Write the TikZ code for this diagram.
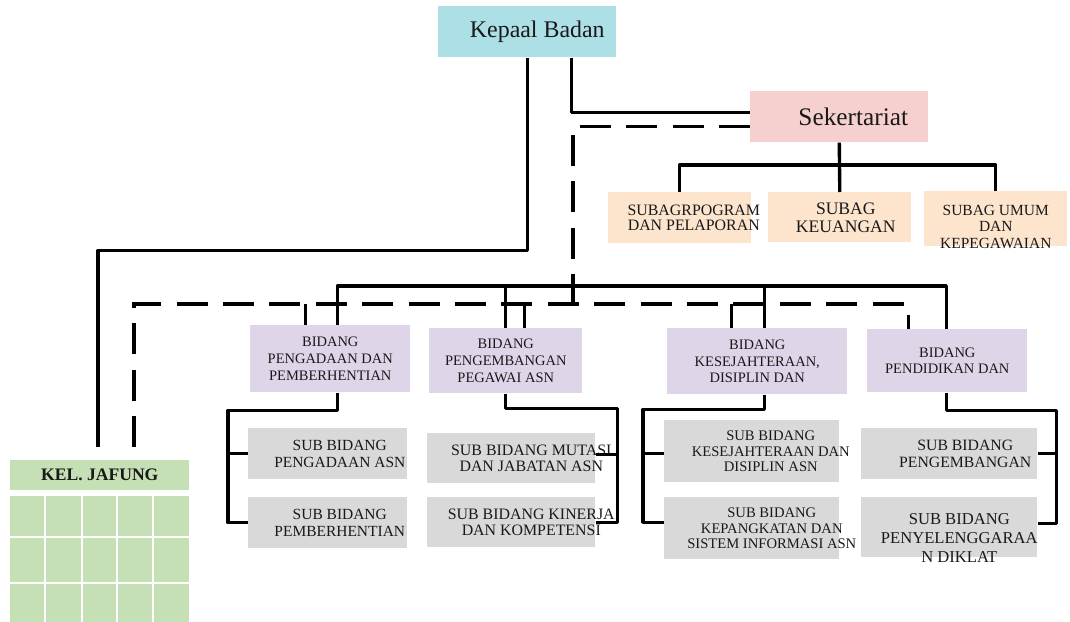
\documentclass[tikz,border=0pt]{standalone}
\usepackage{fontspec}
\setmainfont{Liberation Serif}
\usetikzlibrary{calc}

\definecolor{kbcyan}{RGB}{173,224,230}
\definecolor{sekpink}{RGB}{246,207,207}
\definecolor{subagpeach}{RGB}{252,228,205}
\definecolor{bidlav}{RGB}{223,213,232}
\definecolor{subgray}{RGB}{217,217,217}
\definecolor{jfgreen}{RGB}{197,224,180}

\tikzset{
  sized/.style 2 args={minimum width=#1*0.025cm, minimum height=#2*0.025cm,
    anchor=north west, inner sep=0pt},
  txt/.style={align=center, inner sep=0pt, text=black!90},
  conn/.style={line width=2.4pt, line join=round},
  dline/.style={line width=2.4pt, dash pattern=on 22pt off 11pt},
}

\begin{document}
\begin{tikzpicture}[x=0.025cm, y=-0.025cm]
\useasboundingbox (0,0) rectangle (1070,622);

% top level
\node[sized={178}{51}, fill=kbcyan, label={[txt, font=\fontsize{17}{20}\selectfont, xshift=0.25cm]center:Kepaal Badan}] (kb) at (438,6) {};
\node[sized={178}{51}, fill=sekpink, label={[txt, font=\fontsize{18}{20}\selectfont, xshift=0.35cm]center:Sekertariat}] (sek) at (750,91) {};

% subbagian
\node[sized={143}{51}, fill=subagpeach, label={[txt, font=\fontsize{11.3}{10.7}\selectfont, xshift=0.35cm]center:{SUBAGRPOGRAM\\DAN PELAPORAN}}] (sg1) at (608,192) {};
\node[sized={143}{50}, fill=subagpeach, label={[txt, font=\fontsize{12.5}{12.8}\selectfont, xshift=0.15cm]center:{SUBAG\\KEUANGAN}}] (sg2) at (768,192) {};
\node[sized={143}{55}, fill=subagpeach, label={[txt, font=\fontsize{11}{11.7}\selectfont, yshift=-0.2cm]center:{SUBAG UMUM\\DAN\\KEPEGAWAIAN}}] (sg3) at (924,191) {};

% bidang
\node[sized={160}{67}, fill=bidlav, label={[txt, font=\fontsize{10.3}{12}\selectfont]center:{BIDANG\\PENGADAAN DAN\\PEMBERHENTIAN}}] (b1) at (250,325) {};
\node[sized={153}{65}, fill=bidlav, label={[txt, font=\fontsize{10.3}{12}\selectfont]center:{BIDANG\\PENGEMBANGAN\\PEGAWAI ASN}}] (b2) at (429,328) {};
\node[sized={180}{66}, fill=bidlav, label={[txt, font=\fontsize{10.3}{12}\selectfont]center:{BIDANG\\KESEJAHTERAAN,\\DISIPLIN DAN}}] (b3) at (667,328) {};
\node[sized={160}{63}, fill=bidlav, label={[txt, font=\fontsize{10.3}{12}\selectfont]center:{BIDANG\\PENDIDIKAN DAN}}] (b4) at (867,329) {};

% sub bidang
\node[sized={159}{51}, fill=subgray, label={[txt, font=\fontsize{11}{12.5}\selectfont, xshift=0.3cm]center:{SUB BIDANG\\PENGADAAN ASN}}] (s11) at (248,428) {};
\node[sized={159}{51}, fill=subgray, label={[txt, font=\fontsize{11}{12.5}\selectfont, xshift=0.3cm]center:{SUB BIDANG\\PEMBERHENTIAN}}] (s12) at (248,497) {};
\node[sized={168}{50}, fill=subgray, label={[txt, font=\fontsize{11.3}{12}\selectfont, xshift=0.5cm]center:{SUB BIDANG MUTASI\\DAN JABATAN ASN}}] (s21) at (427,433) {};
\node[sized={168}{50}, fill=subgray, label={[txt, font=\fontsize{11.3}{12}\selectfont, xshift=0.5cm]center:{SUB BIDANG KINERJA\\DAN KOMPETENSI}}] (s22) at (427,497) {};
\node[sized={175}{62}, fill=subgray, label={[txt, font=\fontsize{10.4}{11}\selectfont, xshift=0.475cm]center:{SUB BIDANG\\KESEJAHTERAAN DAN\\DISIPLIN ASN}}] (s31) at (664,420) {};
\node[sized={175}{62}, fill=subgray, label={[txt, font=\fontsize{10.4}{11}\selectfont, xshift=0.5cm]center:{SUB BIDANG\\KEPANGKATAN DAN\\SISTEM INFORMASI ASN}}] (s32) at (664,497) {};
\node[sized={176}{51}, fill=subgray, label={[txt, font=\fontsize{11.2}{12.5}\selectfont, xshift=0.4cm]center:{SUB BIDANG\\PENGEMBANGAN}}] (s41) at (861,428) {};
\node[sized={176}{60}, fill=subgray, label={[txt, font=\fontsize{11.8}{13.5}\selectfont, xshift=0.25cm, yshift=-0.275cm]center:{SUB BIDANG\\PENYELENGGARAA\\N DIKLAT}}] (s42) at (861,497) {};

% kelompok jabatan fungsional
\node[sized={179}{30}, fill=jfgreen, label={[txt, font=\bfseries\fontsize{12.5}{14}\selectfont]center:KEL. JAFUNG}] (jafung) at (10,460) {};
\fill[jfgreen] (10,496) rectangle (189,622);
\foreach \x in {45,82,117,153}
  \draw[white, line width=1.5pt] (\x,496) -- (\x,622);
\foreach \y in {537,583}
  \draw[white, line width=1.5pt] (10,\y) -- (189,\y);

% lines
\coordinate (jf1) at (98,447);
\coordinate (jf2) at (134,447);
\coordinate (bus) at (640,286);
\coordinate (dbus) at (573,304);
\coordinate (sgbus) at (836,165);

\draw[conn] (kb.south) -- ++(0,193) -| (jf1);
\draw[conn] ($(kb.south)+(44,0)$) |- ($(sek.west)+(0,-4.5)$);
\draw[dline] ($(sek.west)+(0,9.5)$) -| (dbus);
\draw[dline] (jf2) |- (dbus) -| ($(b4.north)+(-39,0)$);
\foreach \b/\dx in {b1/-25, b2/18.5, b3/-26}
  \draw[dline] ($(\b.north)+(\dx,0)$) coordinate (top) -- (top |- dbus);

\draw[conn] ($(b1.north)+(7,0)$) |- (bus) -| ($(b4.north)+(-1,0)$);
\foreach \b/\dx in {b2/0, b3/7}
  \draw[conn] ($(\b.north)+(\dx,0)$) coordinate (top) -- (top |- bus);

\draw[conn] (sek.south) -- (sg2.north);
\draw[conn] (sg1.north) |- (sgbus) -| (sg3.north);

\draw[conn] ($(b1.south)+(7,0)$) -- ++(0,18) -| ($(s12.west)+(-20,0)$) -- (s12.west);
\draw[conn] (s11.west) -- ++(-20,0);
\draw[conn] (b2.south) -- ++(0,15) -| ($(s22.east)+(22,0)$) -- (s22.east);
\draw[conn] ($(s21.east)+(0,-4)$) -- ++(22,0);
\draw[conn] ($(b3.south)+(7,0)$) -- ++(0,15) -| ($(s32.west)+(-21,-6)$) -- ($(s32.west)+(0,-6)$);
\draw[conn] ($(s31.west)+(0,2)$) -- ++(-21,0);
\draw[conn] ($(b4.south)+(-1,0)$) -- ++(0,18) -| ($(s42.east)+(19,-4)$) -- ($(s42.east)+(0,-4)$);
\draw[conn] (s41.east) -- ++(19,0);
\end{tikzpicture}
\end{document}
